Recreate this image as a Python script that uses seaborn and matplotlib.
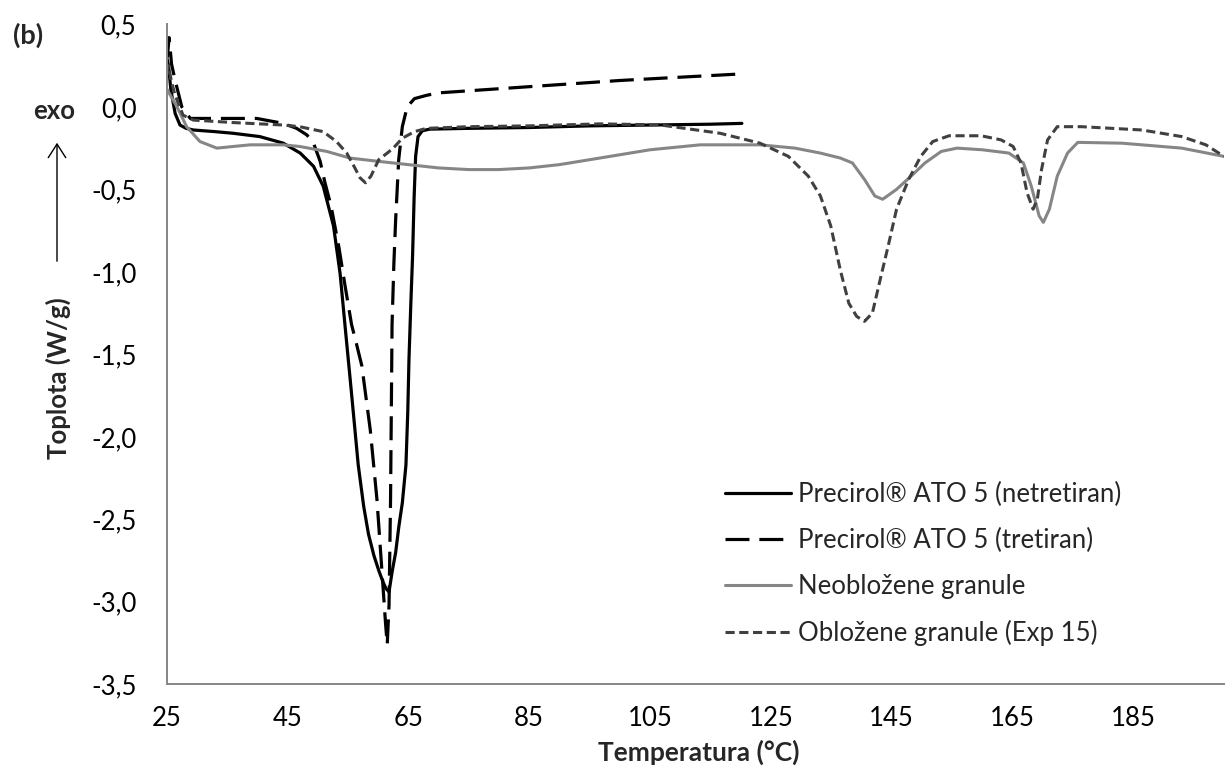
import numpy as np
import pandas as pd
import matplotlib
matplotlib.use("Agg")
import matplotlib.pyplot as plt
import seaborn as sns
from matplotlib.ticker import FixedLocator, FuncFormatter

# DSC thermograms: temperature (°C) and heat flow (W/g)
t_netretiran = [25.0, 25.3, 25.7, 26.4, 27.2, 28.2, 29.4, 33.0, 36.0, 40.4, 44.3, 47.1, 49.3,
                50.9, 52.6, 53.7, 54.5, 55.6, 56.7, 57.6, 58.4, 59.3, 60.1, 60.8, 61.3, 61.8,
                62.3, 62.9, 63.4, 64.0, 64.6, 64.9, 65.1, 65.4, 65.7, 65.95, 66.2, 66.6, 67.3,
                68.5, 75.0, 85.0, 95.0, 105.0, 115.0, 120.2]
q_netretiran = [0.30, 0.25, 0.10, -0.04, -0.11, -0.13, -0.14, -0.15, -0.16, -0.18, -0.22, -0.28,
                -0.36, -0.48, -0.72, -1.01, -1.32, -1.74, -2.17, -2.42, -2.59, -2.72, -2.81,
                -2.88, -2.92, -2.94, -2.82, -2.70, -2.55, -2.40, -2.17, -1.85, -1.53, -1.20,
                -0.90, -0.55, -0.30, -0.18, -0.145, -0.135, -0.13, -0.125, -0.115, -0.11,
                -0.105, -0.10]

t_tretiran = [25.1, 25.4, 25.8, 26.4, 27.5, 28.9, 33.3, 39.9, 44.3, 46.5, 48.2, 49.3, 50.4,
              51.2, 52.2, 53.5, 54.5, 55.6, 56.5, 57.3, 58.7, 59.8, 60.6, 61.2, 61.5, 61.8,
              62.05, 62.3, 62.6, 62.9, 63.4, 64.0, 64.8, 66.0, 68.0, 70.0, 80.0, 90.0, 100.0,
              110.0, 120.2]
q_tretiran = [0.30, 0.42, 0.26, 0.16, 0.0, -0.07, -0.07, -0.07, -0.10, -0.13, -0.17, -0.22,
              -0.33, -0.46, -0.60, -0.85, -1.08, -1.32, -1.45, -1.57, -1.96, -2.38, -2.80,
              -3.12, -3.26, -3.02, -2.38, -1.32, -0.95, -0.68, -0.32, -0.12, 0.0, 0.05, 0.07,
              0.085, 0.11, 0.135, 0.16, 0.18, 0.20]

t_neoblozene = [25.0, 26.7, 28.3, 30.5, 33.3, 36.0, 38.8, 44.3, 47.0, 51.5, 55.3, 60.0, 65.0,
                70.0, 75.0, 80.0, 85.0, 90.0, 96.7, 105.0, 113.3, 123.2, 129.0, 133.2, 136.5,
                138.5, 140.5, 142.2, 143.5, 145.8, 148.2, 150.5, 153.2, 155.8, 160.0, 164.4,
                166.8, 168.1, 169.4, 170.1, 171.1, 172.4, 174.1, 175.8, 183.1, 193.0, 200.0]
q_neoblozene = [0.11, 0.0, -0.12, -0.21, -0.25, -0.24, -0.23, -0.23, -0.24, -0.27, -0.31,
                -0.33, -0.35, -0.37, -0.38, -0.38, -0.37, -0.35, -0.31, -0.26, -0.23, -0.23,
                -0.25, -0.28, -0.31, -0.34, -0.44, -0.54, -0.56, -0.50, -0.42, -0.34, -0.27,
                -0.25, -0.26, -0.28, -0.34, -0.48, -0.66, -0.70, -0.62, -0.42, -0.28, -0.215,
                -0.22, -0.25, -0.30]

t_oblozene = [25.0, 25.3, 25.8, 26.4, 27.7, 29.4, 36.0, 44.3, 47.0, 50.9, 53.1, 54.8, 56.0,
              57.0, 57.9, 58.8, 60.1, 61.5, 62.5, 64.0, 66.0, 68.0, 75.0, 85.0, 96.7, 106.6,
              116.6, 123.2, 127.9, 131.2, 133.2, 134.9, 136.5, 137.9, 139.2, 140.5, 141.8,
              143.2, 144.5, 145.8, 147.8, 149.8, 151.8, 154.5, 159.8, 163.1, 165.1, 166.4,
              167.4, 168.4, 169.1, 169.8, 170.8, 172.4, 176.4, 186.4, 193.0, 197.0, 200.0]
q_oblozene = [0.20, 0.25, 0.15, 0.07, -0.05, -0.08, -0.095, -0.11, -0.12, -0.15, -0.21, -0.28,
              -0.36, -0.43, -0.46, -0.42, -0.32, -0.28, -0.25, -0.19, -0.15, -0.13, -0.12,
              -0.115, -0.103, -0.109, -0.16, -0.22, -0.30, -0.42, -0.54, -0.72, -0.99, -1.19,
              -1.27, -1.30, -1.25, -1.03, -0.83, -0.62, -0.44, -0.30, -0.21, -0.175, -0.175,
              -0.20, -0.24, -0.34, -0.52, -0.62, -0.56, -0.38, -0.20, -0.12, -0.12, -0.14,
              -0.18, -0.23, -0.30]

labels = ["Precirol® ATO 5 (netretiran)", "Precirol® ATO 5 (tretiran)",
          "Neobložene granule", "Obložene granule (Exp 15)"]
x_major = [25, 45, 65, 85, 105, 125, 145, 165, 185]
x_minor = [35, 55, 75, 95, 115, 135, 155, 175, 195]
y_major = [0.5, 0.0, -0.5, -1.0, -1.5, -2.0, -2.5, -3.0, -3.5]
y_minor = [0.25, -0.25, -0.75, -1.25, -1.75, -2.25, -2.75, -3.25]

sns.set_style("white")
plt.rcParams["font.family"] = ["Lato", "DejaVu Sans"]

W, H = 1232, 777
fig = plt.figure(figsize=(W / 100, H / 100), dpi=100)
ax = fig.add_axes([166.7 / W, 1 - 684.3 / H, (1224 - 166.7) / W, (684.3 - 24.4) / H])

series = [
    (t_netretiran, q_netretiran, dict(color="black", lw=2.3, linestyle="-")),
    (t_tretiran, q_tretiran, dict(color="black", lw=2.3, linestyle=(0, (7.5, 3.1)))),
    (t_neoblozene, q_neoblozene, dict(color="#868686", lw=2.2, linestyle="-")),
    (t_oblozene, q_oblozene, dict(color="#404040", lw=2.2, linestyle=(0, (3.0, 1.5)))),
]
handles = []
for (t, q, style), lab in zip(series, labels):
    df = pd.DataFrame({"T": t, "Q": q})
    sns.lineplot(data=df, x="T", y="Q", ax=ax, sort=False, estimator=None,
                 label=lab, legend=False, **style)
    handles.append(ax.lines[-1])

ax.set_xlim(25, 200)
ax.set_ylim(-3.5, 0.5)

grey = "#868686"
for side in ["top", "right"]:
    ax.spines[side].set_visible(False)
for side in ["left", "bottom"]:
    ax.spines[side].set_color(grey)
    ax.spines[side].set_linewidth(1.4)

fs = 18.5
ax.xaxis.set_major_locator(FixedLocator(x_major))
ax.xaxis.set_minor_locator(FixedLocator(x_minor))
ax.yaxis.set_major_locator(FixedLocator(y_major))
ax.yaxis.set_minor_locator(FixedLocator(y_minor))
ax.yaxis.set_major_formatter(
    FuncFormatter(lambda v, p: f"{v:.1f}".replace(".", ",").replace("-0,0", "0,0")))
ax.tick_params(axis="both", which="both", direction="out", length=5.8, width=1.4,
               color=grey, labelsize=fs, labelcolor="black")
ax.tick_params(axis="x", which="major", pad=10)
ax.tick_params(axis="y", which="major", pad=16)

ax.set_xlabel("")
ax.set_ylabel("")
fig.text(699 / W, 1 - 752 / H, "Temperatura (°C)", ha="center", va="center",
         fontsize=19, fontweight="bold")
fig.text(58 / W, 1 - 378 / H, "Toplota (W/g)", rotation=90, ha="center", va="center",
         fontsize=18.5, fontweight="bold")
fig.text(54 / W, 1 - 111 / H, "exo", ha="center", va="center", fontsize=18.5,
         fontweight="bold")
fig.text(28 / W, 1 - 35 / H, "(b)", ha="center", va="center", fontsize=19.5,
         fontweight="bold")
fig.add_artist(matplotlib.patches.FancyArrowPatch(
    (57 / W, 1 - 264 / H), (57 / W, 1 - 140 / H), transform=fig.transFigure,
    arrowstyle="->,head_length=0.7,head_width=0.45", lw=1.0, color="black",
    mutation_scale=14))

leg = fig.legend(handles=handles, labels=labels, loc="center left",
                 bbox_to_anchor=(725 / W, 1 - 564 / H), bbox_transform=fig.transFigure,
                 frameon=False, fontsize=fs, handlelength=2.57, handletextpad=0.27,
                 labelspacing=0.82, borderaxespad=0, borderpad=0)

fig.savefig("out.png", dpi=100)
